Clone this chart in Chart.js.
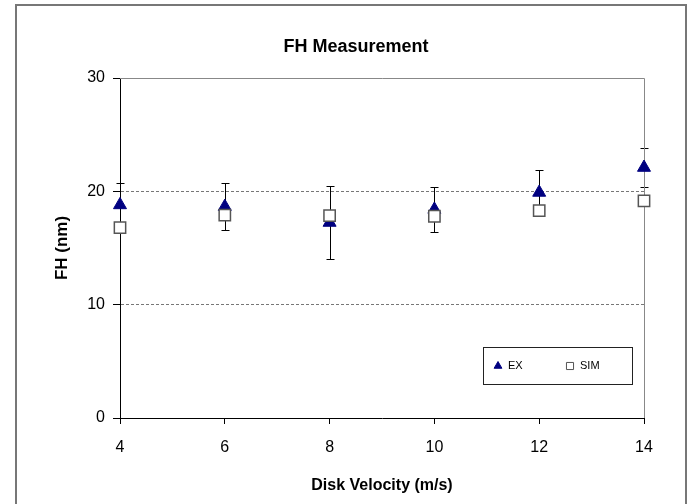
<!DOCTYPE html>
<html>
<head>
<meta charset="utf-8">
<script src="https://cdn.jsdelivr.net/npm/chart.js@4.4.1/dist/chart.umd.min.js"></script>
<style>
  body { margin: 0; background: #fff; }
  #wrap { position: relative; width: 688px; height: 504px; overflow: hidden; }
  #frame { position: absolute; left: 15px; top: 4px; width: 668px; height: 520px; border: 2px solid #777; }
  #fh { position: absolute; left: 0; top: 0; }
</style>
</head>
<body>
<div id="wrap">
  <div id="frame"></div>
  <canvas id="fh" width="688" height="504"></canvas>
</div>
<script>
// disk velocity (m/s)
const velocity = [4, 6, 8, 10, 12, 14]
// measured flying height (nm) and its error
const exValues = [18.8, 18.65, 17.25, 18.4, 19.9, 22.1]
const exError = [1.9, 2.1, 3.25, 2.0, 2.0, 1.75]
// simulated flying height (nm)
const simValues = [16.8, 17.9, 17.85, 17.8, 18.3, 19.15]

const yTicks = [0, 10, 20, 30]
const xTicks = [4, 6, 8, 10, 12, 14]

// error bars for EX, drawn through the scales
const errorBars = {
    id: 'errorBars',
    beforeDatasetsDraw(chart) {
        const { ctx, scales: { x, y } } = chart
        ctx.save()
        ctx.strokeStyle = '#000'
        ctx.lineWidth = 1
        velocity.forEach((v, i) => {
            const px = Math.round(x.getPixelForValue(v)) + 0.5
            const top = Math.round(y.getPixelForValue(exValues[i] + exError[i])) + 0.5
            const bot = Math.round(y.getPixelForValue(exValues[i] - exError[i])) + 0.5
            ctx.beginPath()
            ctx.moveTo(px, top); ctx.lineTo(px, bot)
            ctx.moveTo(px - 4, top); ctx.lineTo(px + 4, top)
            ctx.moveTo(px - 4, bot); ctx.lineTo(px + 4, bot)
            ctx.stroke()
        })
        ctx.restore()
    }
}

// gray frame on top and right of the plot
const plotFrame = {
    id: 'plotFrame',
    beforeDatasetsDraw(chart) {
        const { ctx, chartArea: a } = chart
        ctx.save()
        ctx.strokeStyle = '#888'
        ctx.lineWidth = 1
        ctx.beginPath()
        ctx.moveTo(a.left, Math.round(a.top) + 0.5)
        ctx.lineTo(Math.round(a.right) + 0.5, Math.round(a.top) + 0.5)
        ctx.lineTo(Math.round(a.right) + 0.5, a.bottom)
        ctx.stroke()
        ctx.restore()
    }
}

// legend box inside the plot, lower right
const boxLegend = {
    id: 'boxLegend',
    afterDatasetsDraw(chart) {
        const { ctx, chartArea: a } = chart
        const bx = a.right - 161, by = a.bottom - 71, bw = 149, bh = 37
        ctx.save()
        ctx.fillStyle = '#fff'
        ctx.fillRect(bx, by, bw, bh)
        ctx.strokeStyle = '#222'
        ctx.lineWidth = 1
        ctx.strokeRect(bx + 0.5, by + 0.5, bw, bh)
        ctx.font = '11px "Liberation Sans", Arial, sans-serif'
        ctx.textBaseline = 'middle'
        const cy = by + bh / 2 + 0.5
        chart.data.datasets.forEach((ds, i) => {
            const mx = bx + 15 + i * 72
            ctx.fillStyle = ds.backgroundColor
            ctx.strokeStyle = ds.borderColor
            ctx.lineWidth = 1
            Chart.helpers.drawPoint(ctx, { pointStyle: ds.pointStyle, radius: i == 0 ? 4.5 : 5, borderWidth: 1 }, mx, cy)
            ctx.fillStyle = '#000'
            ctx.fillText(ds.label, mx + 10, cy)
        })
        ctx.restore()
    }
}

const fhData = {
    datasets: [{
        label: 'EX',
        data: velocity.map((v, i) => ({ x: v, y: exValues[i] })),
        pointStyle: 'triangle',
        pointRadius: 7.5,
        backgroundColor: '#000080',
        borderColor: '#000080',
        borderWidth: 1,
        order: 2,
        clip: false
    }, {
        label: 'SIM',
        data: velocity.map((v, i) => ({ x: v, y: simValues[i] })),
        pointStyle: 'rect',
        pointRadius: 8,
        backgroundColor: '#ffffff',
        borderColor: '#555555',
        borderWidth: 1.5,
        order: 1,
        clip: false
    }]
}

const fhConfig = {
    type: 'scatter',
    data: fhData,
    options: {
        responsive: false,
        animation: false,
        events: [],
        layout: { padding: { left: 24, right: 0, top: 0, bottom: 0 } },
        plugins: {
            legend: { display: false },
            tooltip: { enabled: false },
            title: {
                display: true,
                text: 'FH Measurement',
                color: '#000',
                font: { family: '"Liberation Sans", Arial, sans-serif', size: 18, weight: 'bold' },
                padding: { top: 36, bottom: 20.4 }
            }
        },
        scales: {
            x: {
                type: 'linear',
                min: 4,
                max: 14,
                afterBuildTicks: (s) => { s.ticks = xTicks.map(v => ({ value: v })) },
                afterFit: (s) => { s.height = 86 },
                grid: { color: 'transparent', tickColor: '#000', tickLength: 6, drawOnChartArea: false },
                border: { color: '#000', width: 1 },
                ticks: {
                    color: '#000',
                    padding: 14,
                    font: { family: '"Liberation Sans", Arial, sans-serif', size: 16 }
                },
                title: {
                    display: true,
                    text: 'Disk Velocity (m/s)',
                    color: '#000',
                    font: { family: '"Liberation Sans", Arial, sans-serif', size: 16, weight: 'bold' },
                    padding: { top: 0, bottom: 9 }
                }
            },
            y: {
                min: 0,
                max: 30,
                afterBuildTicks: (s) => { s.ticks = yTicks.map(v => ({ value: v })) },
                afterFit: (s) => { s.width = 96 },
                grid: {
                    color: (c) => (c.tick && (c.tick.value == 10 || c.tick.value == 20)) ? '#777' : 'transparent',
                    tickColor: '#000',
                    tickLength: 7
                },
                border: { color: '#000', width: 1, dash: [3, 2] },
                ticks: {
                    color: '#000',
                    padding: 8,
                    font: { family: '"Liberation Sans", Arial, sans-serif', size: 16 }
                },
                title: {
                    display: true,
                    text: 'FH (nm)',
                    color: '#000',
                    font: { family: '"Liberation Sans", Arial, sans-serif', size: 17, weight: 'bold' },
                    padding: { top: 28, bottom: 0 }
                }
            },
            yRight: {
                position: 'right',
                display: true,
                grid: { display: false },
                ticks: { display: false },
                border: { display: false },
                afterFit: (s) => { s.width = 44 }
            }
        }
    },
    plugins: [errorBars, plotFrame, boxLegend]
}

const fhChart = new Chart(document.getElementById('fh'), fhConfig)
</script>
</body>
</html>
